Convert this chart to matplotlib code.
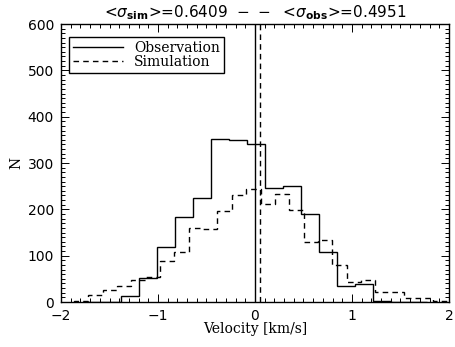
# velocity histograms: observation vs simulation
import numpy as np
import matplotlib
matplotlib.use('Agg')
import matplotlib.pyplot as plt
from matplotlib.ticker import MultipleLocator

# observation histogram (bin edges in km/s, counts)
obs_edges = [-1.753, -1.567, -1.382, -1.196, -1.010, -0.825, -0.639, -0.454,
             -0.268, -0.082, 0.103, 0.289, 0.474, 0.660, 0.845, 1.031,
             1.216, 1.402, 1.587, 1.773]
obs_counts = [0, 0, 14, 52, 119, 183, 224, 352, 349, 340, 247, 251, 191,
              108, 34, 39, 3, 0, 0]

# simulation histogram
sim_edges = [-1.867, -1.719, -1.571, -1.423, -1.275, -1.127, -0.979, -0.831,
             -0.683, -0.535, -0.387, -0.239, -0.091, 0.057, 0.205, 0.353,
             0.501, 0.649, 0.797, 0.945, 1.093, 1.241, 1.389, 1.537, 1.685,
             1.833, 1.981]
sim_counts = [3, 15, 25, 35, 47, 55, 88, 107, 160, 157, 197, 232, 243, 211,
              233, 199, 129, 133, 80, 43, 48, 22, 22, 9, 9, 3]

# mean velocities (vertical lines)
obs_mean = 0.005
sim_mean = 0.055

sigma_sim = 0.6409
sigma_obs = 0.4951

dash = (0, (4, 3))

fig = plt.figure(figsize=(4.55, 3.47), dpi=100)
ax = fig.add_axes([61/455, 45/347, 388/455, 278/347])

ax.stairs(obs_counts, obs_edges, color='k', lw=1.0, label='Observation')
ax.stairs(sim_counts, sim_edges, color='k', lw=1.0, linestyle=dash, label='Simulation')
ax.axvline(obs_mean, color='k', lw=1.0)
ax.axvline(sim_mean, color='k', lw=1.0, linestyle=dash)

ax.set_xlim(-2, 2)
ax.set_ylim(0, 600)
ax.xaxis.set_major_locator(MultipleLocator(1))
ax.xaxis.set_minor_locator(MultipleLocator(0.1))
ax.yaxis.set_major_locator(MultipleLocator(100))
ax.yaxis.set_minor_locator(MultipleLocator(10))
ax.tick_params(which='both', direction='in', top=True, right=True, width=0.7)
ax.tick_params(which='major', length=6, labelsize=10, pad=5)
ax.tick_params(which='minor', length=3)
for lab in ax.get_xticklabels() + ax.get_yticklabels():
    lab.set_family('DejaVu Sans')
for s in ax.spines.values():
    s.set_linewidth(1.0)

ax.set_xlabel('Velocity [km/s]', family='DejaVu Serif', fontsize=10, labelpad=-1)
ax.set_ylabel('N', family='DejaVu Serif', fontsize=10, labelpad=3)

title = (r'<$\sigma_{\mathbf{sim}}$>=%.4f  $-\ -$  <$\sigma_{\mathbf{obs}}$>=%.4f'
         % (sigma_sim, sigma_obs))
ax.set_title(title, fontsize=11, pad=5)

leg = ax.legend(loc='upper left', bbox_to_anchor=(0.02, 0.955), borderaxespad=0,
                frameon=True, fancybox=False, edgecolor='k', framealpha=1,
                handlelength=3.6, handletextpad=0.8, labelspacing=0.0,
                borderpad=0.3, prop={'family': 'DejaVu Serif', 'size': 10})
leg.get_frame().set_linewidth(1.0)

fig.savefig('out.png', dpi=100)
